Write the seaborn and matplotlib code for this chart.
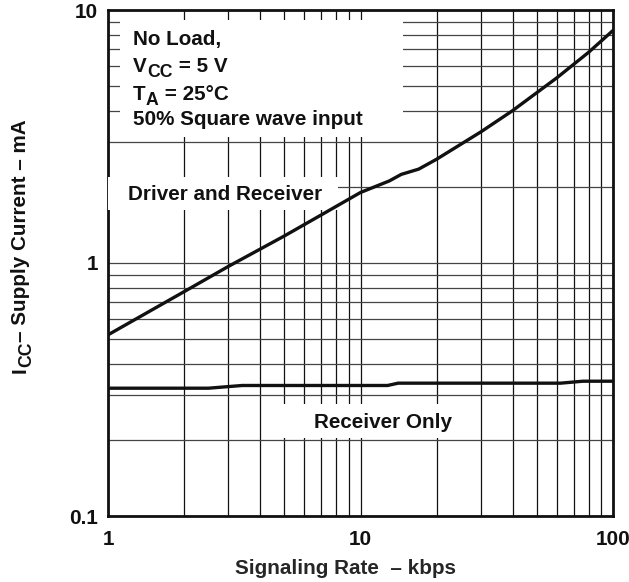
import numpy as np
import pandas as pd
import matplotlib
matplotlib.use('Agg')
import matplotlib.pyplot as plt
from matplotlib.patches import Rectangle
from matplotlib.ticker import LogLocator, NullFormatter, FixedLocator, FixedFormatter
import seaborn as sns

# data
drv_rate = [1, 2, 3, 5, 7, 10, 13, 14.5, 17, 20, 30, 40, 60, 80, 100]
drv_icc = [0.52, 0.77, 0.97, 1.28, 1.55, 1.90, 2.11, 2.24, 2.35, 2.57, 3.3, 4.0, 5.4, 6.8, 8.3]
rx_rate = [1, 2.5, 3.4, 12.8, 14.1, 62, 76, 100]
rx_icc = [0.32, 0.32, 0.328, 0.328, 0.335, 0.335, 0.341, 0.341]

x_ticks = [1, 10, 100]
x_labels = ['1', '10', '100']
y_ticks = [0.1, 1, 10]
y_labels = ['0.1', '1', '10']

df = pd.concat([
    pd.DataFrame({'rate': drv_rate, 'icc': drv_icc, 'curve': 'Driver and Receiver'}),
    pd.DataFrame({'rate': rx_rate, 'icc': rx_icc, 'curve': 'Receiver Only'}),
])

sns.set_style('white')
plt.rcParams['font.family'] = ['Liberation Sans', 'DejaVu Sans']
plt.rcParams['font.weight'] = 'bold'
plt.rcParams['text.color'] = '#111111'

fs = 14.9
fsub = fs * 0.85
fig = plt.figure(figsize=(6.29, 5.82), dpi=100)
ax = fig.add_axes([108/629, 1-516/582, 505/629, 506/582])

sns.lineplot(data=df, x='rate', y='icc', hue='curve', palette=['#111111', '#111111'],
             linewidth=2.4, legend=False, ax=ax, zorder=5)

ax.set_xscale('log')
ax.set_yscale('log')
ax.set_xlim(1, 100)
ax.set_ylim(0.1, 10)

ax.xaxis.set_major_locator(FixedLocator(x_ticks))
ax.xaxis.set_major_formatter(FixedFormatter(x_labels))
ax.yaxis.set_major_locator(FixedLocator(y_ticks))
ax.yaxis.set_major_formatter(FixedFormatter(y_labels))
ax.xaxis.set_minor_locator(LogLocator(base=10, subs=np.arange(2, 10)))
ax.yaxis.set_minor_locator(LogLocator(base=10, subs=np.arange(2, 10)))
ax.xaxis.set_minor_formatter(NullFormatter())
ax.yaxis.set_minor_formatter(NullFormatter())

ax.grid(which='both', axis='x', color='#111111', linewidth=0.9)
ax.grid(which='both', axis='y', color='#444444', linewidth=0.9)
ax.set_axisbelow(True)
ax.tick_params(which='both', length=0, labelsize=fs, labelcolor='#111111')
ax.tick_params(axis='x', pad=10)
ax.tick_params(axis='y', pad=7)
for s in ax.spines.values():
    s.set_linewidth(2)
    s.set_color('#111111')

ax.set_xlabel('Signaling Rate  – kbps', fontsize=fs, fontweight='bold')
ax.set_ylabel('')
ax.xaxis.set_label_coords(0.471, -0.085)


def sub_text(x, y, main, sub, rest):
    # main text, a large subscript, then the rest on the main baseline
    t1 = ax.text(x, y, main, transform=ax.transAxes, fontsize=fs, fontweight='bold',
                 va='baseline', ha='left', zorder=4)
    t2 = ax.annotate(sub, xy=(1, 0), xycoords=t1, xytext=(0.3, -3.2),
                     textcoords='offset points', fontsize=fsub, fontweight='bold',
                     va='bottom', ha='left', zorder=4)
    ax.annotate(rest, xy=(1, 0), xycoords=(t2, t1), xytext=(0, 0),
                textcoords='offset points', fontsize=fs, fontweight='bold',
                va='bottom', ha='left', zorder=4)


# y axis label built from pieces so the subscript keeps its size
r1 = ax.text(-0.192, 0.283, 'I', transform=ax.transAxes, rotation=90, fontsize=fs,
             fontweight='bold', ha='left', va='bottom')
r2 = ax.annotate('CC', xy=(0, 1), xycoords=r1, xytext=(5.3, 0), textcoords='offset points',
                 rotation=90, fontsize=fsub, fontweight='bold', ha='left', va='bottom')
ax.annotate('– Supply Current – mA', xy=(0, 1), xycoords=(r1, r2), xytext=(0, 0),
            textcoords='offset points', rotation=90, fontsize=fs, fontweight='bold',
            ha='left', va='bottom')

# white boxes behind the annotations
for (x0, y0, w, h) in [(0.024, 0.749, 0.56, 0.231), (0.0, 0.605, 0.455, 0.065), (0.33, 0.154, 0.36, 0.067)]:
    ax.add_patch(Rectangle((x0, y0), w, h, transform=ax.transAxes, facecolor='white',
                           edgecolor='none', zorder=3))

ax.text(0.0495, 0.931, 'No Load,', transform=ax.transAxes, fontsize=fs, fontweight='bold',
        va='baseline', ha='left', zorder=4)
sub_text(0.0495, 0.877, 'V', 'CC', ' = 5 V')
sub_text(0.0495, 0.822, 'T', 'A', ' = 25°C')
ax.text(0.0495, 0.773, '50% Square wave input', transform=ax.transAxes, fontsize=fs,
        fontweight='bold', va='baseline', ha='left', zorder=4)
ax.text(0.04, 0.625, 'Driver and Receiver', transform=ax.transAxes, fontsize=fs,
        fontweight='bold', va='baseline', ha='left', zorder=4)
ax.text(0.545, 0.174, 'Receiver Only', transform=ax.transAxes, fontsize=fs,
        fontweight='bold', va='baseline', ha='center', zorder=4)

fig.savefig('out.png', dpi=100, facecolor='white')
